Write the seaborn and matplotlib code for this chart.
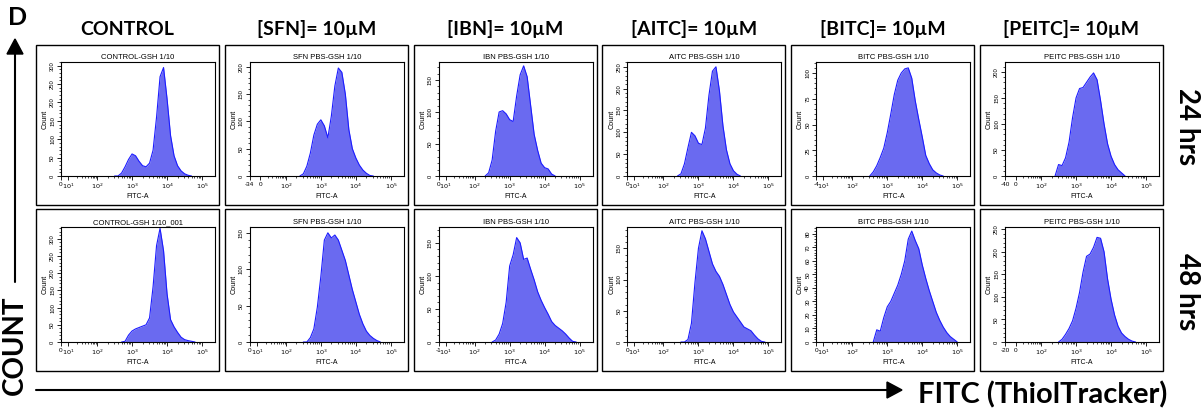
import numpy as np
import matplotlib
matplotlib.use("Agg")
import matplotlib.pyplot as plt
import seaborn as sns
from matplotlib.patches import Rectangle, Polygon
from matplotlib.ticker import AutoMinorLocator

sns.set_theme(style="ticks")
plt.rcParams['font.family'] = ['Liberation Sans', 'DejaVu Sans']
plt.rcParams['text.color'] = 'black'
plt.rcParams['axes.labelcolor'] = 'black'
plt.rcParams['xtick.color'] = 'black'
plt.rcParams['ytick.color'] = 'black'

W, H = 1202, 412
BIG = ['Lato', 'DejaVu Sans']
FILL = '#6a6af0'
EDGE = '#1c1cff'

columns = ["CONTROL", "[SFN]= 10\u00b5M", "[IBN]= 10\u00b5M",
           "[AITC]= 10\u00b5M", "[BITC]= 10\u00b5M", "[PEITC]= 10\u00b5M"]
rows = ["24 hrs", "48 hrs"]

titles_24 = ["CONTROL-GSH 1/10", "SFN PBS-GSH 1/10", "IBN PBS-GSH 1/10",
             "AITC PBS-GSH 1/10", "BITC PBS-GSH 1/10", "PEITC PBS-GSH 1/10"]
titles_48 = ["CONTROL-GSH 1/10_001", "SFN PBS-GSH 1/10", "IBN PBS-GSH 1/10",
             "AITC PBS-GSH 1/10", "BITC PBS-GSH 1/10", "PEITC PBS-GSH 1/10"]

# counts per 0.1-decade bin of FITC-A, first bin at the decade given in start_*
ctrl_24 = [0, 0, 8, 25, 45, 60, 55, 40, 28, 25, 35, 70, 160, 270, 295, 210, 110, 55, 28, 14, 6, 2, 0]
sfn_24 = [0, 4, 18, 42, 75, 95, 103, 92, 70, 110, 165, 198, 190, 150, 85, 50, 33, 20, 11, 5, 1, 0]
ibn_24 = [0, 5, 25, 70, 100, 102, 97, 88, 85, 125, 158, 172, 155, 110, 65, 40, 20, 13, 11, 3, 0]
aitc_24 = [0, 5, 28, 65, 100, 92, 75, 72, 110, 185, 240, 250, 195, 115, 60, 28, 12, 4, 0]
bitc_24 = [0, 4, 10, 18, 27, 42, 60, 79, 93, 100, 104, 105, 95, 73, 55, 38, 20, 12, 6, 3, 1, 0]
peitc_24 = [0, 22, 20, 35, 65, 112, 150, 168, 170, 180, 190, 198, 185, 145, 100, 62, 38, 22, 12, 6, 0]
start_24 = [2.5, 2.4, 2.3, 2.4, 2.5, 2.4]

ctrl_48 = [0, 2, 20, 32, 38, 42, 46, 50, 70, 160, 280, 330, 265, 140, 65, 44, 28, 14, 7, 4, 2, 0]
sfn_48 = [0, 0, 6, 18, 48, 90, 140, 150, 143, 147, 140, 126, 112, 92, 72, 55, 38, 25, 15, 9, 5, 2, 0]
ibn_48 = [0, 3, 12, 28, 60, 115, 132, 158, 150, 125, 127, 110, 94, 76, 63, 52, 42, 31, 25, 21, 17, 12, 6, 1, 0]
aitc_48 = [0, 0, 4, 30, 95, 150, 178, 165, 145, 125, 113, 105, 92, 76, 60, 48, 40, 32, 24, 21, 18, 11, 5, 1, 0]
bitc_48 = [0, 9, 8, 18, 26, 30, 36, 42, 50, 60, 76, 82, 75, 69, 57, 47, 38, 30, 22, 16, 11, 7, 4, 2, 0]
peitc_48 = [0, 6, 17, 30, 47, 75, 110, 155, 190, 195, 210, 232, 230, 200, 140, 95, 60, 35, 20, 12, 6, 2, 0]
start_48 = [2.7, 2.5, 2.5, 2.5, 2.6, 2.5]

ymax_24 = [310, 209, 178, 261, 110.7, 219]
ystep_24 = [50, 50, 50, 50, 25, 50]
ymax_48 = [334, 158, 174, 184, 85, 255]
ystep_48 = [50, 50, 50, 50, 10, 50]

# labels of the two low-end ticks of each panel
low_ticks_24 = [("0", "$10^{1}$"), ("-34", "0"), ("0", "$10^{1}$"),
                ("0", "$10^{1}$"), ("-4", "$10^{1}$"), ("-40", "0")]
low_ticks_48 = [("0", "$10^{1}$"), ("0", "$10^{1}$"), ("-1", "$10^{1}$"),
                ("0", "$10^{1}$"), ("0", "$10^{1}$"), ("-20", "0")]
decade_labels = ["$10^{2}$", "$10^{3}$", "$10^{4}$", "$10^{5}$"]

fig = plt.figure(figsize=(W / 100, H / 100), dpi=100)
fig.patch.set_facecolor('white')

# overlay in pixel coordinates for frames, arrows and big labels
ov = fig.add_axes([0, 0, 1, 1])
ov.set_xlim(0, W)
ov.set_ylim(H, 0)
ov.axis('off')

box_top = [45, 209]
box_h = [160, 162]
ax_top = [62, 227]
ax_h = [114, 115]
XLO, XHI = 0.97, 5.37

row_data = [
    ([ctrl_24, sfn_24, ibn_24, aitc_24, bitc_24, peitc_24], start_24, ymax_24, ystep_24, titles_24, low_ticks_24),
    ([ctrl_48, sfn_48, ibn_48, aitc_48, bitc_48, peitc_48], start_48, ymax_48, ystep_48, titles_48, low_ticks_48),
]

for r, (series, starts, ymaxs, ysteps, titles, lows) in enumerate(row_data):
    for c in range(6):
        bx = 36 + 188.8 * c
        ov.add_patch(Rectangle((bx, box_top[r]), 183, box_h[r], fill=False, lw=1.0, ec='black'))

        ax = fig.add_axes([(bx + 25) / W, 1 - (ax_top[r] + ax_h[r]) / H, 154 / W, ax_h[r] / H])
        y = np.array(series[c], dtype=float)
        x = starts[c] + 0.1 * np.arange(len(y))
        ax.fill_between(x, y, color=FILL, lw=0)
        sns.lineplot(x=x, y=y, ax=ax, color=EDGE, lw=0.8)

        ax.set_xlim(XLO, XHI)
        ax.set_ylim(0, ymaxs[c])
        first, second = lows[c]
        p2 = 1.17 if second.startswith('$') else 1.27
        ax.set_xticks([XLO, p2, 2, 3, 4, 5])
        ax.set_xticklabels([first, second] + decade_labels)
        minors = [p2 + (2 - p2) * np.log10(m) for m in range(2, 10)]
        for k in range(2, 5):
            minors += [k + np.log10(m) for m in range(2, 10)]
        ax.set_xticks(minors, minor=True)

        ax.set_yticks(np.arange(0, ymaxs[c] + 0.1, ysteps[c]))
        ax.yaxis.set_minor_locator(AutoMinorLocator(5))
        ax.tick_params(axis='both', which='major', length=3, width=0.6,
                       labelsize=4.6, pad=1.2, color='black', direction='out')
        ax.tick_params(axis='both', which='minor', length=1.5, width=0.5,
                       color='black', direction='out')
        ax.tick_params(axis='y', labelrotation=90, labelsize=4.2)
        for lab in ax.get_yticklabels():
            lab.set_va('center')
        for sp in ax.spines.values():
            sp.set_color('black')
            sp.set_linewidth(0.8)

        ax.set_title(titles[c], fontsize=5.5, pad=2)
        ax.set_ylabel("Count", fontsize=5.2, labelpad=1)
        ax.set_xlabel("FITC-A", fontsize=5, labelpad=1)

    ov.text(1187, [127, 292][r], rows[r], rotation=270, ha='center', va='center',
            fontsize=20, fontweight='bold', family=BIG)

for c, name in enumerate(columns):
    ov.text(36 + 188.8 * c + 91.5, 35, name, ha='center', va='baseline',
            fontsize=14, fontweight='bold', family=BIG)

ov.text(18, 17, "D", ha='center', va='center', fontsize=18, fontweight='bold', family=BIG)

# y arrow with COUNT
ov.plot([15, 15], [282, 50], color='black', lw=1.5)
ov.add_patch(Polygon([[7, 54], [15, 39], [23, 54]], closed=True, color='black'))
ov.text(15, 345, "COUNT", rotation=90, ha='center', va='center',
        fontsize=20, fontweight='bold', family=BIG)

# x arrow with label
ov.plot([36, 890], [390, 390], color='black', lw=1.5)
ov.add_patch(Polygon([[887, 382], [902, 390], [887, 398]], closed=True, color='black'))
ov.text(918, 403, "FITC (ThiolTracker)", ha='left', va='baseline',
        fontsize=21, fontweight='bold', family=BIG)

fig.savefig("out.png", dpi=100)
